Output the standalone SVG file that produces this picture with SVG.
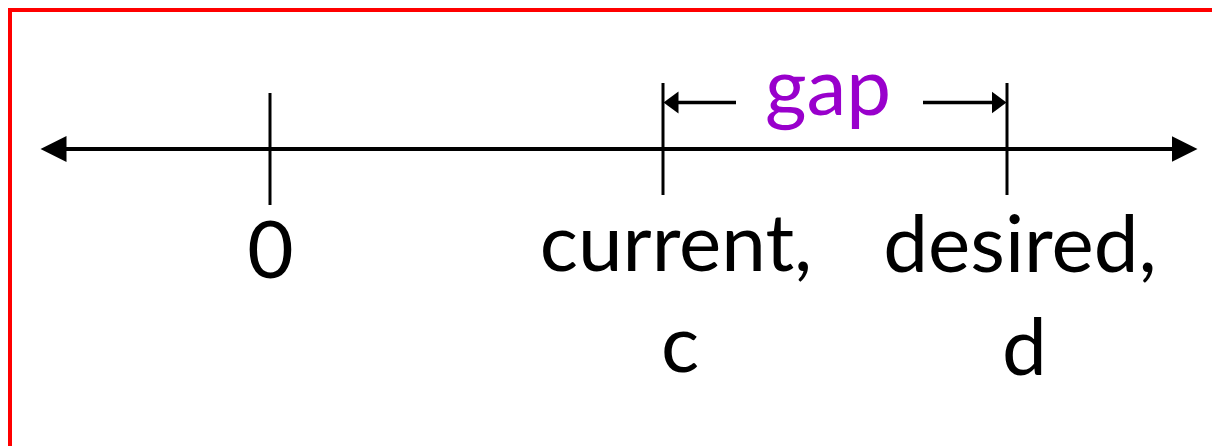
<svg xmlns="http://www.w3.org/2000/svg" width="1212" height="446" viewBox="0 0 1212 446">
  <style>
    .lbl { font-family: Lato, "Open Sans", sans-serif; font-size: 80px; fill: #000; text-anchor: middle; }
    .gap { font-family: Lato, "Open Sans", sans-serif; font-size: 80px; fill: #9900CC; text-anchor: middle; }
    .axis { stroke: #000; stroke-width: 4; fill: none; }
    .tick { stroke: #000; stroke-width: 3; fill: none; }
    .garrow { stroke: #000; stroke-width: 3.5; fill: none; }
  </style>
  <defs>
    <marker id="bigHead" markerUnits="userSpaceOnUse" markerWidth="27" markerHeight="28" refX="0.5" refY="14" orient="auto-start-reverse" viewBox="0 0 27 28">
      <polygon points="0,1 26,14 0,27" fill="#000"/>
    </marker>
    <marker id="smallHead" markerUnits="userSpaceOnUse" markerWidth="16" markerHeight="24" refX="0.5" refY="12" orient="auto" viewBox="0 0 16 24">
      <polygon points="0,1 15,12 0,23" fill="#000"/>
    </marker>
  </defs>
  <rect x="10" y="10" width="1260" height="500" fill="#fff" stroke="#FF0000" stroke-width="4"/>

  <g id="connectors">
    <line class="axis" x1="66" y1="149" x2="1172" y2="149" marker-start="url(#bigHead)" marker-end="url(#bigHead)"/>
    <line class="garrow" x1="736" y1="102.5" x2="678" y2="102.5" marker-end="url(#smallHead)"/>
    <line class="garrow" x1="923" y1="102.5" x2="992" y2="102.5" marker-end="url(#smallHead)"/>
  </g>

  <g id="tick-zero">
    <line class="tick" x1="270" y1="93" x2="270" y2="205"/>
    <text class="lbl" x="270.5" y="278">0</text>
  </g>
  <g id="tick-current">
    <line class="tick" x1="663" y1="83" x2="663" y2="195"/>
    <text class="lbl" x="676" y="271">current,</text>
    <text class="lbl" x="680" y="372">c</text>
  </g>
  <g id="tick-desired">
    <line class="tick" x1="1007" y1="83" x2="1007" y2="195"/>
    <text class="lbl" x="1020" y="272">desired,</text>
    <text class="lbl" x="1024.5" y="375">d</text>
  </g>
  <g id="gap-label">
    <text class="gap" x="828" y="115">gap</text>
  </g>
</svg>
